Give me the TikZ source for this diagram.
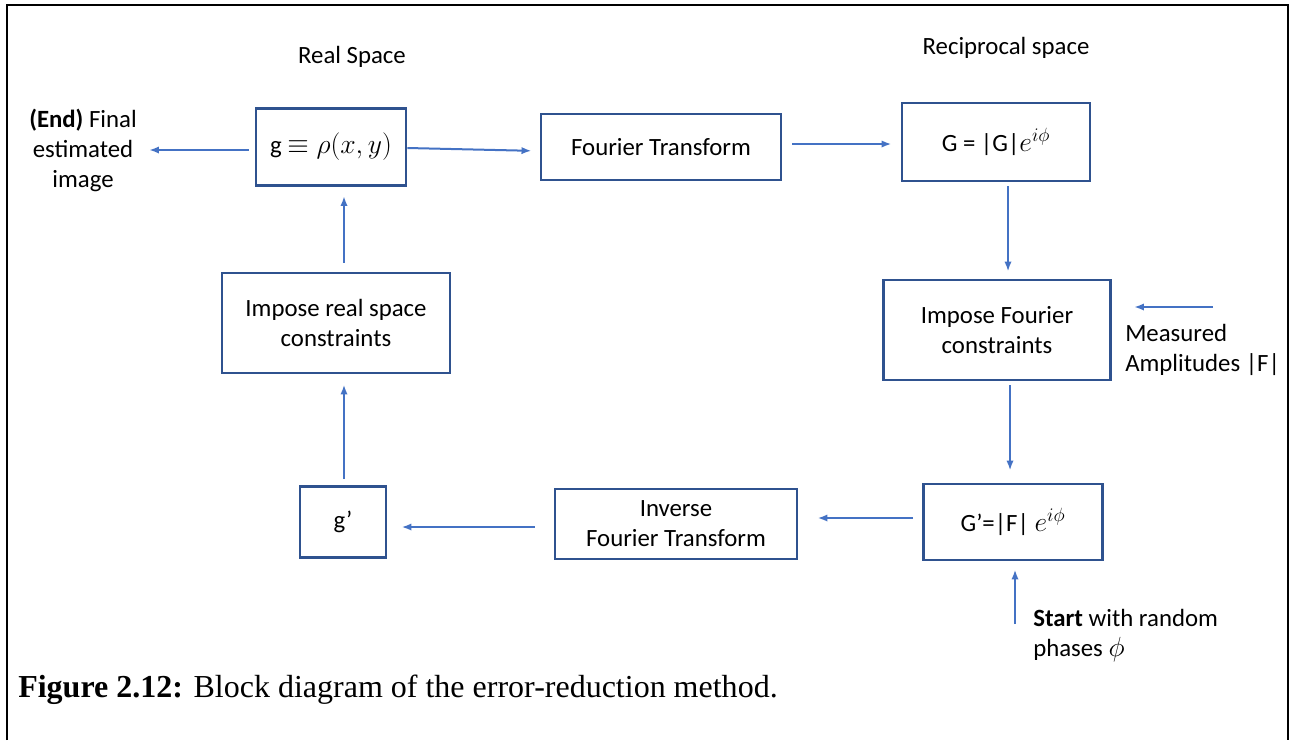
\documentclass[tikz,border=0pt]{standalone}
\usepackage{fontspec}
\setmainfont{Carlito}
\newfontfamily\capfont{Liberation Serif}
\usetikzlibrary{arrows.meta}
\definecolor{boxblue}{HTML}{2F528F}
\definecolor{arrblue}{HTML}{4472C4}
\newcommand{\mathbig}[1]{{\fontsize{21.5}{22}\selectfont$#1$}}

\begin{document}
\begin{tikzpicture}[x=0.75pt,y=-0.75pt,
	font=\fontsize{18.6}{22.5}\selectfont,
	blk/.style 2 args={draw=boxblue, line width=2.2pt, align=center, inner sep=0pt,
		minimum width=#1*0.75pt, minimum height=#2*0.75pt},
	arr/.style={draw=arrblue, line width=1.5pt, -{Latex[length=7.5pt,width=5.5pt]}}]
	\useasboundingbox (0,0) rectangle (1291,740);
	\draw [line width=2.2pt] (7,740) -- (7,5) -- (1288,5) -- (1288,740);

	% headings
	\node (realsp) at (352,57) {Real Space};
	\node (recsp) at (1006,48) {Reciprocal space};

	% blocks
	\node [blk={150}{77}] (g) at (331,147) {g \mathbig{\equiv \rho(x, y)}};
	\node [blk={240}{66}] (ft) at (661,147) {Fourier Transform};
	\node [blk={188}{78}] (G) at (996,142) {G = |G|\mathbig{e^{i\phi}}};
	\node [blk={227}{100}] (impf) at (997,330) {Impose Fourier\\constraints};
	\node [blk={179}{76}] (Gp) at (1013,522) {G’=|F| \mathbig{e^{i\phi}}};
	\node [blk={242}{70}] (ift) at (676,524) {Inverse\\Fourier Transform};
	\node [blk={86}{71}] (gp) at (343,522) {g’};
	\node [blk={228}{100}] (impr) at (336,323) {Impose real space\\constraints};

	% side texts
	\node [align=center, inner sep=0pt] (endlbl) at (83,150) {\textbf{(End)} Final\\estimated\\image};
	\node [align=left, anchor=west, inner sep=0pt] (meas) at (1125,350) {Measured\\Amplitudes |F|};
	\node [align=left, anchor=west, inner sep=0pt] (startlbl) at (1033,636) {\textbf{Start} with random\\phases \mathbig{\phi}};
	\coordinate (msrc) at (1213,307);
	\coordinate (ssrc) at (1015,624);

	% loop
	\draw [arr, shorten <=4.5pt, shorten >=9pt] ([yshift=-2.25pt]g.west) -- ([yshift=-2.25pt]g.west -| endlbl.east);
	\draw [arr, shorten >=6pt] ([yshift=-0.75pt]g.east) -- ([yshift=-3pt]ft.west);
	\draw [arr, shorten <=7.5pt, shorten >=6.75pt] ([yshift=2.25pt]ft.east) -- ([yshift=-1.5pt]G.west);
	\draw [arr] ([xshift=9pt,yshift=-3pt]G.south) -- ([xshift=8.25pt,yshift=5.25pt]impf.north);
	\draw [arr, shorten >=16.5pt] (msrc) -- (msrc -| impf.east);
	\draw [arr] ([xshift=9.75pt,yshift=-3pt]impf.south) -- ([xshift=-2.25pt,yshift=9pt]Gp.north);
	\draw [arr] ([xshift=-6.75pt,yshift=3pt]Gp.west) -- ([xshift=14.25pt,yshift=4.5pt]ift.east);
	\draw [arr, shorten >=6pt] (ssrc) -- (ssrc |- Gp.south);
	\draw [arr] ([xshift=-14.25pt,yshift=-2.25pt]ift.west) -- ([xshift=10.5pt,yshift=-3.75pt]gp.east);
	\draw [arr] ([xshift=0.75pt,yshift=4.5pt]gp.north) -- ([xshift=6pt,yshift=-7.5pt]impr.south);
	\draw [arr] ([xshift=6pt,yshift=6.75pt]impr.north) -- ([xshift=9.75pt,yshift=-6.75pt]g.south);

	% caption
	\node [anchor=west, inner sep=0pt] (cap) at (18,690) {\capfont\fontsize{24}{28}\selectfont\textbf{Figure 2.12:} Block diagram of the error-reduction method.};
\end{tikzpicture}
\end{document}
